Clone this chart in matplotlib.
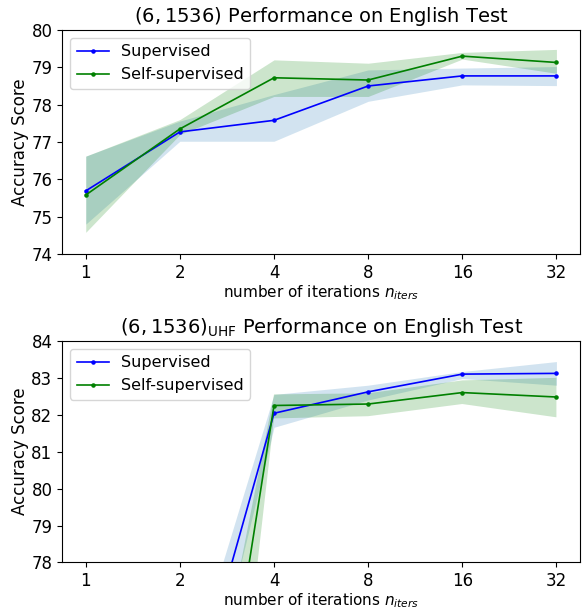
import matplotlib
matplotlib.use("Agg")
import matplotlib.pyplot as plt
import numpy as np

iters = ["1", "2", "4", "8", "16", "32"]

# top: (6, 1536)
sup_top = [75.69, 77.27, 77.58, 78.50, 78.77, 78.77]
sup_top_lo = [74.80, 77.02, 77.02, 78.09, 78.53, 78.51]
sup_top_hi = [76.62, 77.56, 78.27, 78.93, 78.98, 79.02]
self_top = [75.58, 77.35, 78.72, 78.66, 79.30, 79.13]
self_top_lo = [74.58, 77.20, 78.22, 78.22, 79.22, 78.84]
self_top_hi = [76.62, 77.60, 79.20, 79.11, 79.40, 79.48]

# bottom: (6, 1536)_UHF
sup_bot = [70.5, 73.0, 82.04, 82.62, 83.10, 83.12]
sup_bot_lo = [68.5, 71.2, 81.66, 82.40, 82.98, 82.80]
sup_bot_hi = [72.5, 74.2, 82.55, 82.80, 83.17, 83.44]
self_bot = [62.0, 66.1, 82.25, 82.29, 82.60, 82.48]
self_bot_lo = [56.0, 59.6, 81.90, 81.96, 82.29, 81.93]
self_bot_hi = [68.0, 69.6, 82.55, 82.58, 82.93, 83.00]

fig = plt.figure(figsize=(5.87, 6.12), dpi=100)
ax1 = fig.add_axes([0.106, 0.585, 0.882, 0.366])
ax2 = fig.add_axes([0.106, 0.081, 0.882, 0.362])

x = np.arange(len(iters))


def draw(ax, s, slo, shi, g, glo, ghi, ylim, title):
    ax.plot(x, s, "b.-", lw=1.2, ms=4.5, label="Supervised")
    ax.fill_between(x, slo, shi, color="tab:blue", alpha=0.2, lw=0)
    ax.plot(x, g, "g.-", lw=1.2, ms=4.5, label="Self-supervised")
    ax.fill_between(x, glo, ghi, color="green", alpha=0.2, lw=0)
    ax.set_xticks(x)
    ax.set_xticklabels(iters)
    ax.set_xlim(-0.25, 5.25)
    ax.set_ylim(*ylim)
    ax.set_yticks(np.arange(ylim[0], ylim[1] + 1))
    ax.tick_params(labelsize=12)
    ax.set_xlabel("number of iterations $n_{iters}$", fontsize=11, labelpad=1)
    ax.set_ylabel("Accuracy Score", fontsize=12, labelpad=2)
    ax.set_title(title, fontsize=14)
    ax.legend(loc="upper left", fontsize=11.5)


draw(ax1, sup_top, sup_top_lo, sup_top_hi, self_top, self_top_lo, self_top_hi,
     (74, 80), "$(6, 1536)$ Performance on English Test")
draw(ax2, sup_bot, sup_bot_lo, sup_bot_hi, self_bot, self_bot_lo, self_bot_hi,
     (78, 84), r"$(6, 1536)_{\mathrm{UHF}}$ Performance on English Test")

fig.savefig("out.png", dpi=100)
